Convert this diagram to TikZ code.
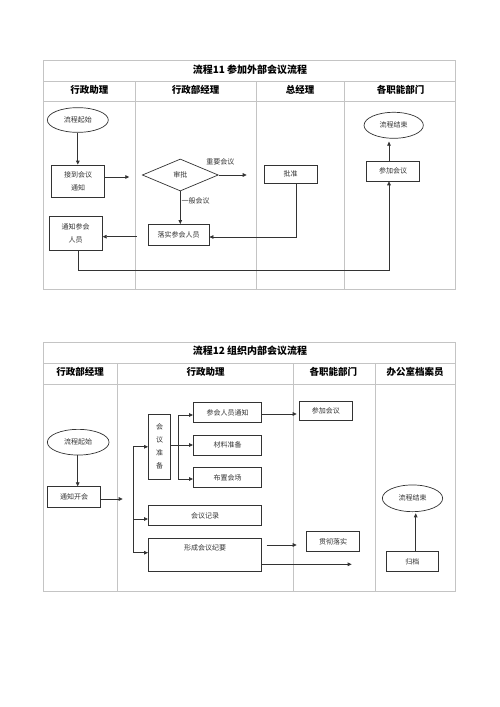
\documentclass[tikz,border=0pt]{standalone}
\usepackage{fontspec}
\setmainfont{Noto Sans CJK SC}
\usetikzlibrary{shapes.geometric,arrows.meta,calc}
\definecolor{framegray}{HTML}{C4C4C4}
\definecolor{linegray}{HTML}{333333}
\definecolor{txtgray}{HTML}{333333}
\begin{document}
\begin{tikzpicture}[x=1pt,y=-1pt,
  frame/.style={draw=framegray,line width=0.8pt},
  titletext/.style={font=\fontsize{10}{12}\selectfont\bfseries,text=black},
  headtext/.style={font=\fontsize{9.5}{11}\selectfont\bfseries,text=black},
  boxtext/.style={font=\fontsize{7}{13}\selectfont,text=txtgray},
  pbox/.style={boxtext,draw=linegray,line width=0.7pt,inner sep=0pt,align=center},
  pell/.style={boxtext,draw=linegray,line width=0.7pt,ellipse,inner sep=0pt},
  pdia/.style={boxtext,draw=linegray,line width=0.7pt,diamond,aspect=2.4,inner sep=0pt},
  arr/.style={draw=linegray,line width=0.8pt,-{Triangle[length=4pt,width=3.6pt]}},
  ln/.style={draw=linegray,line width=0.8pt},
  lbl/.style={boxtext,inner sep=1pt}]
\useasboundingbox[fill=white] (0,0) rectangle (500,707);

% ================= Diagram 11 =================
\draw[frame] (43.3,60) rectangle (455,289.3);
\draw[frame] (43.3,81) -- (455,81);
\draw[frame] (43.3,101.7) -- (455,101.7);
\draw[frame] (135.7,81) -- (135.7,289.3);
\draw[frame] (256,81) -- (256,289.3);
\draw[frame] (344,81) -- (344,289.3);
\node[titletext] (t1) at (250,69.5) {流程11 参加外部会议流程};
\node[headtext] (h11) at (89.3,90) {行政助理};
\node[headtext] (h12) at (195.7,90) {行政部经理};
\node[headtext] (h13) at (300,90) {总经理};
\node[headtext] (h14) at (400.7,90) {各职能部门};

\node[pell,minimum width=61pt,minimum height=24.7pt] (s1) at (77.8,120) {流程起始};
\node[pbox,minimum width=52.7pt,minimum height=32.7pt] (b1) at (78,181.3) {接到会议\\通知};
\node[pdia,minimum width=76pt,minimum height=32pt] (d1) at (180.3,175) {审批};
\node[pbox,minimum width=60.7pt,minimum height=20.7pt] (b2) at (178.7,234.7) {落实参会人员};
\node[pbox,minimum width=53.3pt,minimum height=18.3pt] (b3) at (290.7,174.2) {批准};
\node[pbox,minimum width=53.3pt,minimum height=33.3pt] (b4) at (75.7,233.3) {通知参会\\人员};
\node[pbox,minimum width=52.7pt,minimum height=19.3pt] (b5) at (393,171.3) {参加会议};
\node[pell,minimum width=59.3pt,minimum height=26pt] (s2) at (393.7,125.3) {流程结束};
\node[lbl] (l1) at (220.3,162) {重要会议};

\coordinate (e1) at (129.3,177);
\coordinate (e2) at (246.7,175);
\coordinate (c1) at (296,237);
\coordinate (e3) at (136.7,236.7);
\coordinate (c2) at (78.3,270);
\coordinate (c3) at (389,270);

\draw[arr] (s1.south) -- (s1.south |- b1.north);
\draw[arr] (b1.east |- e1) -- (e1);
\draw[arr] (d1.east) -- (e2);
\draw[arr] (d1.south) -- (d1.south |- b2.north) node[lbl,pos=0.3,right=0pt] (l2) {一般会议};
\draw[arr] (b3.south -| c1) -- (c1) -- (b2.east |- c1);
\draw[arr] (e3) -- (b4.east |- e3);
\draw[arr] (b4.south -| c2) -- (c2) -- (c3) -- (c3 |- b5.south);
\draw[arr,shorten >=3pt] (b5.north -| c3) -- (c3 |- s2.south);

% ================= Diagram 12 =================
\draw[frame] (43.3,342.3) rectangle (455,591);
\draw[frame] (43.3,363.3) -- (455,363.3);
\draw[frame] (43.3,384.3) -- (455,384.3);
\draw[frame] (117.7,363.3) -- (117.7,591);
\draw[frame] (293.3,363.3) -- (293.3,591);
\draw[frame] (375,363.3) -- (375,591);
\node[titletext] (t2) at (250,351) {流程12 组织内部会议流程};
\node[headtext] (h21) at (80,371.5) {行政部经理};
\node[headtext] (h22) at (205.7,371.5) {行政助理};
\node[headtext] (h23) at (333.3,371.5) {各职能部门};
\node[headtext] (h24) at (415,371.5) {办公室档案员};

\node[pell,minimum width=61.7pt,minimum height=25.7pt] (s3) at (78.2,442.2) {流程起始};
\node[pbox,minimum width=53.3pt,minimum height=20.7pt] (b6) at (74,497) {通知开会};
\node[pbox,minimum width=22.3pt,minimum height=65.7pt] (prep) at (159.5,446.8) {会\\议\\准\\备};
\node[pbox,minimum width=68.3pt,minimum height=20pt] (n1) at (227.5,412.7) {参会人员通知};
\node[pbox,minimum width=68.3pt,minimum height=20pt] (n2) at (227.5,445) {材料准备};
\node[pbox,minimum width=68.3pt,minimum height=20pt] (n3) at (227.5,477.7) {布置会场};
\node[pbox,minimum width=113.3pt,minimum height=20pt] (rec) at (205,515.8) {会议记录};
\node[pbox,minimum width=113.3pt,minimum height=33.3pt] (form) at (205,555) {};
\node[boxtext] (formt) at (205,548.3) {形成会议纪要};
\node[pbox,minimum width=53pt,minimum height=19.7pt] (p1) at (325.8,410.8) {参加会议};
\node[pbox,minimum width=52.7pt,minimum height=20pt] (p2) at (333,541.7) {贯彻落实};
\node[pbox,minimum width=52.7pt,minimum height=20pt] (ar) at (412.3,561.7) {归档};
\node[pell,minimum width=60.3pt,minimum height=26.7pt] (s4) at (412.5,498.3) {流程结束};

\coordinate (e4) at (122.7,499);
\coordinate (k1) at (133.3,446.8);
\coordinate (k2) at (133.3,519);
\coordinate (k3) at (133.3,552.7);
\coordinate (m0) at (178.3,445);
\coordinate (m1) at (178.3,415);
\coordinate (m2) at (178.3,445);
\coordinate (m3) at (178.3,479);
\coordinate (e5) at (296.7,414);
\coordinate (f1) at (266.7,545);
\coordinate (e6) at (296.7,545);
\coordinate (e7) at (351.7,564.3);
\coordinate (g1) at (415.7,513.3);

\draw[arr] (s3.south -| 77.7,0) -- (b6.north -| 77.7,0);
\draw[arr] (b6.east |- e4) -- (e4);
\draw[ln] (k1) -- (k3);
\draw[arr] (k1) -- (prep.west |- k1);
\draw[arr] (k2) -- (rec.west |- k2);
\draw[arr] (k3) -- (form.west |- k3);
\draw[ln] (prep.east |- m0) -- (m0);
\draw[ln] (m1) -- (m3);
\draw[arr] (m1) -- (n1.west |- m1);
\draw[arr] (m2) -- (n2.west |- m2);
\draw[arr] (m3) -- (n3.west |- m3);
\draw[arr] (n1.east |- e5) -- (e5);
\draw[arr] (f1) -- (e6);
\draw[arr] (form.east |- e7) -- (e7);
\draw[arr] (ar.north -| g1) -- (g1);
\end{tikzpicture}
\end{document}
